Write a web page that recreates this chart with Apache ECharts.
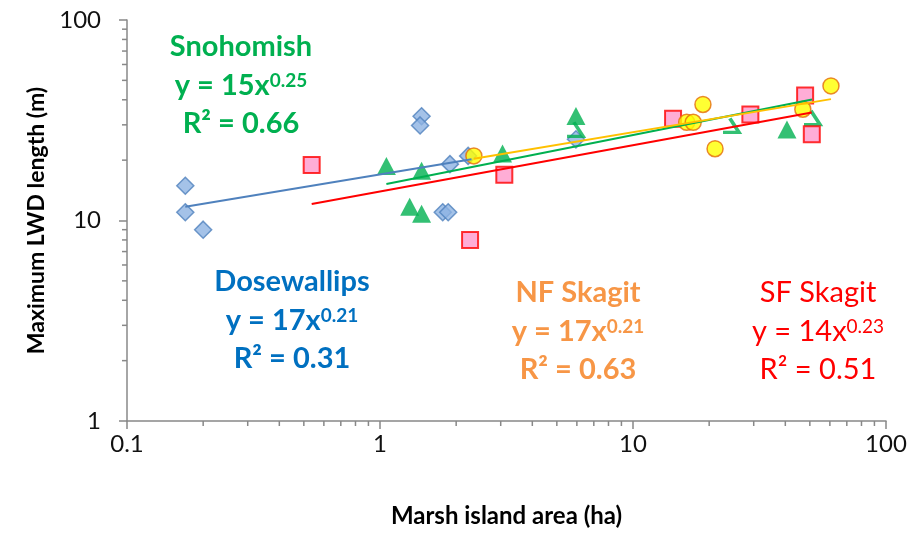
<!DOCTYPE html>
<html><head><meta charset="utf-8">
<script src="https://cdn.jsdelivr.net/npm/echarts@6/dist/echarts.min.js"></script>
<style>html,body{margin:0;padding:0;background:#fff}#c{width:911px;height:533px}</style>
</head><body><div id="c"></div>
<script>
// Dosewallips (blue diamonds)
const doseX = [0.17, 0.17, 0.20, 1.46, 1.44, 1.89, 2.23, 1.77, 1.86, 5.95];
const doseY = [14.9, 11.0, 9.0, 33.1, 29.8, 19.1, 21.0, 11.0, 11.0, 25.4];
// Snohomish (green triangles)
const snoX = [1.06, 1.46, 1.31, 1.46, 3.05, 5.95, 40.6];
const snoY = [18.7, 17.7, 11.7, 10.8, 21.6, 33.2, 28.4];
// Snohomish marks drawn as broken glyphs
const snoOddX = [5.9, 24.4, 51];
const snoOddY = [28.5, 29.8, 32.6];
// NF Skagit (yellow circles)
const nfX = [2.35, 16.3, 17.3, 18.9, 21.1, 46.9, 60.6];
const nfY = [21.0, 30.9, 30.9, 37.9, 22.8, 35.9, 46.9];
// SF Skagit (pink squares)
const sfX = [0.537, 3.10, 2.27, 14.4, 29.1, 47.9, 50.9];
const sfY = [18.9, 16.9, 8.0, 32.2, 33.8, 42.0, 26.9];
// Trend line end points (power fits)
const doseTrendX = [0.17, 2.3], doseTrendY = [11.7, 20.2];
const snoTrendX = [1.06, 51], snoTrendY = [15.2, 40.1];
const nfTrendX = [2.35, 60.6], nfTrendY = [20.3, 40.3];
const sfTrendX = [0.537, 50.9], sfTrendY = [12.1, 34.6];
// Axis ticks
const xTicks = [0.1, 1, 10, 100];
const yTicks = [1, 10, 100];
const xTickLabels = {0.1: '0.1', 1: '1', 10: '10', 100: '100'};
const yTickLabels = {1: '1', 10: '10', 100: '100'};
const minorMult = [2, 3, 4, 5, 6, 7, 8, 9];

const zip = (a, b) => a.map((v, i) => [v, b[i]]);
const FONT = 'Lato, "Open Sans", sans-serif';
const AX = '#888888';

const chart = echarts.init(document.getElementById('c'), null, {renderer: 'canvas'});

const option = {
  animation: false,
  backgroundColor: '#fff',
  grid: {left: 127, right: 25, top: 20, bottom: 110, containLabel: false},
  xAxis: {
    type: 'log', logBase: 10, min: xTicks[0], max: xTicks[xTicks.length - 1],
    name: 'Marsh island area (ha)', nameLocation: 'middle', nameGap: 83,
    nameTextStyle: {fontFamily: FONT, fontWeight: 'bold', fontSize: 24, color: '#000'},
    axisLine: {lineStyle: {color: AX, width: 1.5}},
    axisTick: {show: true, inside: false, length: 8, lineStyle: {color: AX, width: 1.5}},
    minorTick: {show: false},
    splitLine: {show: false},
    axisLabel: {fontFamily: FONT, fontSize: 24, color: '#111', margin: 11,
      formatter: v => xTickLabels[+v.toPrecision(3)] ?? ''}
  },
  yAxis: {
    type: 'log', logBase: 10, min: yTicks[0], max: yTicks[yTicks.length - 1],
    name: 'Maximum LWD length (m)', nameLocation: 'middle', nameGap: 78,
    nameTextStyle: {fontFamily: FONT, fontWeight: 'bold', fontSize: 23, color: '#000'},
    axisLine: {show: true, lineStyle: {color: AX, width: 1.5}},
    axisTick: {show: true, inside: false, length: 8, lineStyle: {color: AX, width: 1.5}},
    minorTick: {show: false},
    splitLine: {show: false},
    axisLabel: {fontFamily: FONT, fontSize: 24, color: '#111', margin: 26,
      formatter: v => yTickLabels[+v.toPrecision(3)] ?? ''}
  },
  series: [
    {type: 'scatter', name: 'Dosewallips', data: zip(doseX, doseY), symbol: 'diamond', symbolSize: 17,
      itemStyle: {color: '#8DB3E2', borderColor: '#4F81BD', borderWidth: 1.5}, z: 3},
    {type: 'scatter', name: 'Snohomish', data: zip(snoX, snoY), symbol: 'triangle', symbolSize: [19, 18],
      itemStyle: {color: '#00B050'}, z: 3},
    {type: 'scatter', name: 'SnohomishGlyph', data: zip(snoOddX, snoOddY),
      symbol: 'path://M6,0 L14,12 L0,12', symbolSize: [16, 14],
      itemStyle: {color: 'none', borderColor: '#00B050', borderWidth: 3.5}, z: 3},
    {type: 'scatter', name: 'SF Skagit', data: zip(sfX, sfY), symbol: 'rect', symbolSize: 16,
      itemStyle: {color: '#FF99CC', borderColor: '#FF0000', borderWidth: 2}, z: 4},
    {type: 'scatter', name: 'NF Skagit', data: zip(nfX, nfY), symbol: 'circle', symbolSize: 16,
      itemStyle: {color: '#FFFF00', borderColor: '#E46C0A', borderWidth: 1.5}, z: 5},
    {type: 'line', data: zip(doseTrendX, doseTrendY), showSymbol: false, symbol: 'none',
      lineStyle: {color: '#4F81BD', width: 2}, z: 6},
    {type: 'line', data: zip(snoTrendX, snoTrendY), showSymbol: false, symbol: 'none',
      lineStyle: {color: '#00B050', width: 2}, z: 6},
    {type: 'line', data: zip(sfTrendX, sfTrendY), showSymbol: false, symbol: 'none',
      lineStyle: {color: '#FF0000', width: 2}, z: 6},
    {type: 'line', data: zip(nfTrendX, nfTrendY), showSymbol: false, symbol: 'none',
      lineStyle: {color: '#FFC000', width: 2}, z: 6}
  ]
};
chart.setOption(option);

function textBlock(cx, cy, color, bold, lines) {
  const w = bold ? 'bold' : 'normal';
  return lines.map((t, i) => ({
    type: 'text', x: cx, y: cy + i * 38.5, z: 10,
    style: {
      text: t, fill: color, align: 'center', verticalAlign: 'middle',
      font: w + ' 29px ' + FONT,
      rich: {
        b: {fontSize: 29, fontWeight: w, fontFamily: FONT, fill: color, color: color, verticalAlign: 'bottom'},
        sup: {fontSize: 19, fontWeight: w, fontFamily: FONT, fill: color, color: color, verticalAlign: 'top'}
      }
    }
  }));
}

// minor ticks at 2..9 x 10^k, placed through the axis scales
const gfx = [];
const y0 = chart.convertToPixel({yAxisIndex: 0}, yTicks[0]);
const x0 = chart.convertToPixel({xAxisIndex: 0}, xTicks[0]);
for (let k = 0; k < xTicks.length - 1; k++) {
  minorMult.forEach(m => {
    const px = chart.convertToPixel({xAxisIndex: 0}, xTicks[k] * m);
    gfx.push({type: 'line', shape: {x1: px, y1: y0, x2: px, y2: y0 + 5}, style: {stroke: AX, lineWidth: 1.5}, z: 2});
  });
}
for (let k = 0; k < yTicks.length - 1; k++) {
  minorMult.forEach(m => {
    const py = chart.convertToPixel({yAxisIndex: 0}, yTicks[k] * m);
    gfx.push({type: 'line', shape: {x1: x0 - 5, y1: py, x2: x0, y2: py}, style: {stroke: AX, lineWidth: 1.5}, z: 2});
  });
}

const texts = [].concat(
  textBlock(241, 47, '#00B050', true, ['Snohomish', '{b|y = 15x}{sup|0.25}', 'R² = 0.66']),
  textBlock(292, 282, '#0070C0', true, ['Dosewallips', '{b|y = 17x}{sup|0.21}', 'R² = 0.31']),
  textBlock(578, 293, '#F79646', true, ['NF Skagit', '{b|y = 17x}{sup|0.21}', 'R² = 0.63']),
  textBlock(818, 293, '#FF0000', false, ['SF Skagit', '{b|y = 14x}{sup|0.23}', 'R² = 0.51'])
);
chart.setOption({graphic: gfx.concat(texts)});
</script></body></html>
